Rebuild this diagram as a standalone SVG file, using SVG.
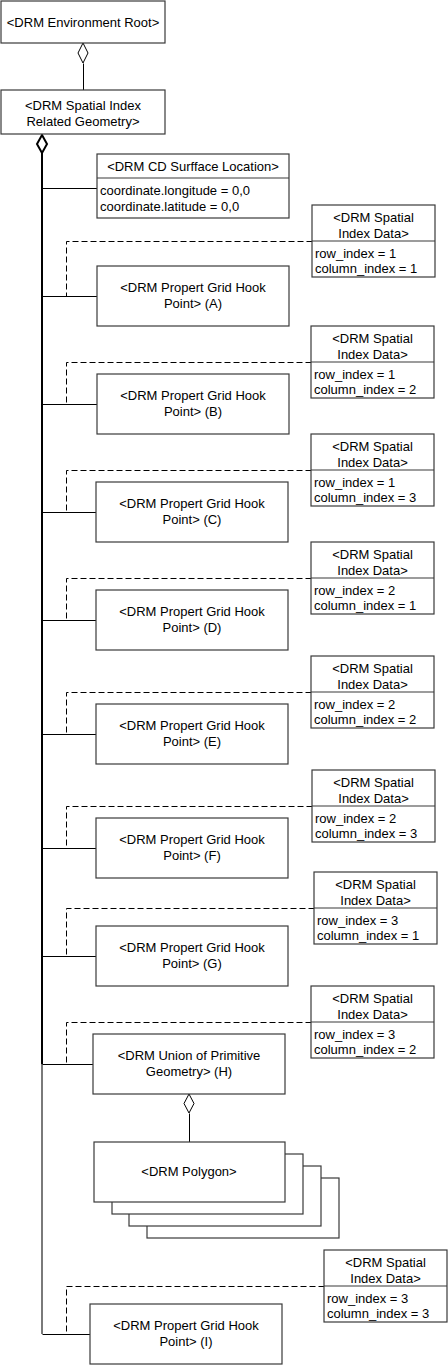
<svg xmlns="http://www.w3.org/2000/svg" width="448" height="1365" viewBox="0 0 448 1365">
<style>
.box{fill:#fff;stroke:#3a3a3a;stroke-width:1.2}
.ln{fill:none;stroke:#000;stroke-width:1}
.dash{fill:none;stroke:#000;stroke-width:1;stroke-dasharray:6,3}
.dia{fill:#fff;stroke:#000;stroke-width:1}
text{font-family:"Liberation Sans",Arial,sans-serif;font-size:13px;fill:#000}
.c{text-anchor:middle}
</style>
<rect width="448" height="1365" fill="#fff"/>
<g id="connectors">
<line x1="42" y1="152" x2="42" y2="1064" stroke="#000" stroke-width="2"/>
<line x1="42" y1="1064" x2="42" y2="1334" stroke="#7a7a7a" stroke-width="2"/>
<g transform="translate(0.5,0.5)">
<line class="ln" x1="83" y1="63" x2="83" y2="90"/>
<line class="ln" x1="42" y1="188" x2="97" y2="188"/>
<line class="ln" x1="42" y1="296" x2="97" y2="296"/>
<line class="ln" x1="42" y1="404" x2="97" y2="404"/>
<line class="ln" x1="42" y1="512" x2="96" y2="512"/>
<line class="ln" x1="42" y1="620" x2="96" y2="620"/>
<line class="ln" x1="42" y1="734" x2="96" y2="734"/>
<line class="ln" x1="42" y1="848" x2="96" y2="848"/>
<line class="ln" x1="42" y1="956" x2="96" y2="956"/>
<line class="ln" x1="42" y1="1064" x2="93" y2="1064"/>
<line class="ln" x1="42" y1="1334" x2="90" y2="1334"/>
<polyline class="dash" points="312,241 66,241 66,296"/>
<polyline class="dash" points="311,362 66,362 66,404"/>
<polyline class="dash" points="311,470 66,470 66,512"/>
<polyline class="dash" points="311,578 66,578 66,620"/>
<polyline class="dash" points="311,692 66,692 66,734"/>
<polyline class="dash" points="312,806 66,806 66,848"/>
<polyline class="dash" points="314,908 66,908 66,956"/>
<polyline class="dash" points="311,1022 66,1022 66,1064"/>
<polyline class="dash" points="324,1286 66,1286 66,1334"/>
<line class="ln" x1="189" y1="1113" x2="189" y2="1142"/>
</g>
<polygon class="dia" points="83,43 88,53 83,63 78,53"/>
<polygon points="42,135 47,144 42,153 37,144" fill="#fff" stroke="#000" stroke-width="2"/>
<polygon class="dia" points="189,1094 194,1103.5 189,1113 184,1103.5"/>
</g>
<g id="env-root">
<rect class="box" x="1" y="1" width="164" height="42"/>
<text class="c" x="83" y="27">&lt;DRM Environment Root&gt;</text>
</g>
<g id="spatial-index-related-geometry">
<rect class="box" x="1" y="90" width="164" height="44"/>
<text class="c" x="83" y="110">&lt;DRM Spatial Index</text>
<text class="c" x="83" y="126">Related Geometry&gt;</text>
</g>
<g id="cd-surface-location">
<rect class="box" x="97" y="154" width="192" height="64"/>
<line class="box" x1="97" y1="178" x2="289" y2="178"/>
<text class="c" x="193" y="171">&lt;DRM CD Surfface Location&gt;</text>
<text x="100" y="195">coordinate.longitude = 0,0</text>
<text x="100" y="211">coordinate.latitude = 0,0</text>
</g>
<g id="sid-a">
<rect class="box" x="312" y="205" width="123" height="72"/>
<line class="box" x1="312" y1="241" x2="435" y2="241"/>
<text class="c" x="373.5" y="221.5">&lt;DRM Spatial</text>
<text class="c" x="373.5" y="237.5">Index Data&gt;</text>
<text x="315" y="257.5">row_index = 1</text>
<text x="315" y="272.5">column_index = 1</text>
</g>
<g id="hook-a">
<rect class="box" x="97" y="266" width="192" height="60"/>
<text class="c" x="193" y="291.5">&lt;DRM Propert Grid Hook</text>
<text class="c" x="193" y="308">Point&gt; (A)</text>
</g>
<g id="sid-b">
<rect class="box" x="311" y="326" width="123" height="72"/>
<line class="box" x1="311" y1="362" x2="434" y2="362"/>
<text class="c" x="372.5" y="342.5">&lt;DRM Spatial</text>
<text class="c" x="372.5" y="358.5">Index Data&gt;</text>
<text x="314" y="378.5">row_index = 1</text>
<text x="314" y="393.5">column_index = 2</text>
</g>
<g id="hook-b">
<rect class="box" x="97" y="374" width="192" height="60"/>
<text class="c" x="193" y="399.5">&lt;DRM Propert Grid Hook</text>
<text class="c" x="193" y="416">Point&gt; (B)</text>
</g>
<g id="sid-c">
<rect class="box" x="311" y="434" width="123" height="72"/>
<line class="box" x1="311" y1="470" x2="434" y2="470"/>
<text class="c" x="372.5" y="450.5">&lt;DRM Spatial</text>
<text class="c" x="372.5" y="466.5">Index Data&gt;</text>
<text x="314" y="486.5">row_index = 1</text>
<text x="314" y="501.5">column_index = 3</text>
</g>
<g id="hook-c">
<rect class="box" x="96" y="482" width="192" height="60"/>
<text class="c" x="192" y="507.5">&lt;DRM Propert Grid Hook</text>
<text class="c" x="192" y="524">Point&gt; (C)</text>
</g>
<g id="sid-d">
<rect class="box" x="311" y="542" width="123" height="72"/>
<line class="box" x1="311" y1="578" x2="434" y2="578"/>
<text class="c" x="372.5" y="558.5">&lt;DRM Spatial</text>
<text class="c" x="372.5" y="574.5">Index Data&gt;</text>
<text x="314" y="594.5">row_index = 2</text>
<text x="314" y="609.5">column_index = 1</text>
</g>
<g id="hook-d">
<rect class="box" x="96" y="590" width="192" height="60"/>
<text class="c" x="192" y="615.5">&lt;DRM Propert Grid Hook</text>
<text class="c" x="192" y="632">Point&gt; (D)</text>
</g>
<g id="sid-e">
<rect class="box" x="311" y="656" width="123" height="72"/>
<line class="box" x1="311" y1="692" x2="434" y2="692"/>
<text class="c" x="372.5" y="672.5">&lt;DRM Spatial</text>
<text class="c" x="372.5" y="688.5">Index Data&gt;</text>
<text x="314" y="708.5">row_index = 2</text>
<text x="314" y="723.5">column_index = 2</text>
</g>
<g id="hook-e">
<rect class="box" x="96" y="704" width="192" height="60"/>
<text class="c" x="192" y="729.5">&lt;DRM Propert Grid Hook</text>
<text class="c" x="192" y="746">Point&gt; (E)</text>
</g>
<g id="sid-f">
<rect class="box" x="312" y="770" width="123" height="72"/>
<line class="box" x1="312" y1="806" x2="435" y2="806"/>
<text class="c" x="373.5" y="786.5">&lt;DRM Spatial</text>
<text class="c" x="373.5" y="802.5">Index Data&gt;</text>
<text x="315" y="822.5">row_index = 2</text>
<text x="315" y="837.5">column_index = 3</text>
</g>
<g id="hook-f">
<rect class="box" x="96" y="818" width="192" height="60"/>
<text class="c" x="192" y="843.5">&lt;DRM Propert Grid Hook</text>
<text class="c" x="192" y="860">Point&gt; (F)</text>
</g>
<g id="sid-g">
<rect class="box" x="314" y="872" width="123" height="72"/>
<line class="box" x1="314" y1="908" x2="437" y2="908"/>
<text class="c" x="375.5" y="888.5">&lt;DRM Spatial</text>
<text class="c" x="375.5" y="904.5">Index Data&gt;</text>
<text x="317" y="924.5">row_index = 3</text>
<text x="317" y="939.5">column_index = 1</text>
</g>
<g id="hook-g">
<rect class="box" x="96" y="926" width="192" height="60"/>
<text class="c" x="192" y="951.5">&lt;DRM Propert Grid Hook</text>
<text class="c" x="192" y="968">Point&gt; (G)</text>
</g>
<g id="sid-h">
<rect class="box" x="311" y="986" width="123" height="72"/>
<line class="box" x1="311" y1="1022" x2="434" y2="1022"/>
<text class="c" x="372.5" y="1002.5">&lt;DRM Spatial</text>
<text class="c" x="372.5" y="1018.5">Index Data&gt;</text>
<text x="314" y="1038.5">row_index = 3</text>
<text x="314" y="1053.5">column_index = 2</text>
</g>
<g id="union-h">
<rect class="box" x="93" y="1034" width="192" height="60"/>
<text class="c" x="189" y="1059.5">&lt;DRM Union of Primitive</text>
<text class="c" x="189" y="1076">Geometry&gt; (H)</text>
</g>
<g id="polygon">
<rect class="box" x="147" y="1178" width="192" height="60"/>
<rect class="box" x="129" y="1166" width="192" height="60"/>
<rect class="box" x="112" y="1154" width="191" height="60"/>
<rect class="box" x="94" y="1142" width="191" height="60"/>
<text class="c" x="189" y="1176">&lt;DRM Polygon&gt;</text>
</g>
<g id="sid-i">
<rect class="box" x="324" y="1250" width="123" height="72"/>
<line class="box" x1="324" y1="1286" x2="447" y2="1286"/>
<text class="c" x="385.5" y="1266.5">&lt;DRM Spatial</text>
<text class="c" x="385.5" y="1282.5">Index Data&gt;</text>
<text x="327" y="1302.5">row_index = 3</text>
<text x="327" y="1317.5">column_index = 3</text>
</g>
<g id="hook-i">
<rect class="box" x="90" y="1304" width="192" height="60"/>
<text class="c" x="186" y="1329.5">&lt;DRM Propert Grid Hook</text>
<text class="c" x="186" y="1346">Point&gt; (I)</text>
</g>
</svg>
